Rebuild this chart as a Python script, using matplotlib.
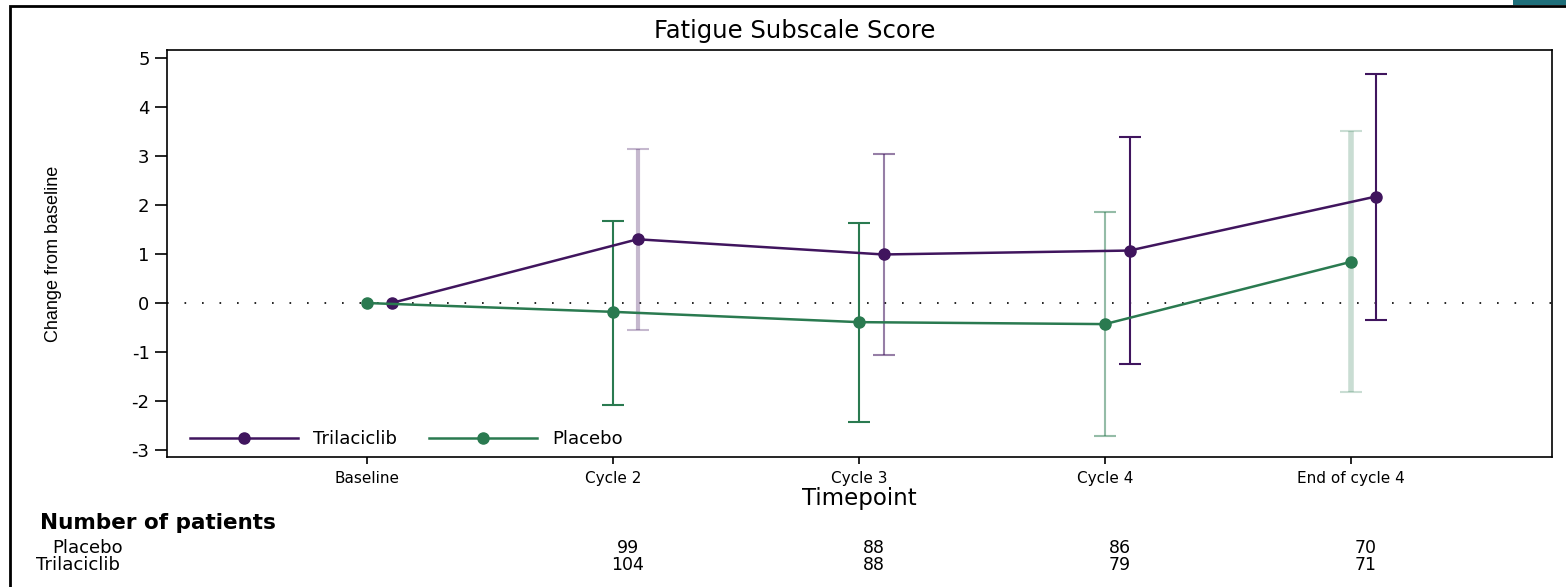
"""
Fatigue Subscale Score - change from baseline by timepoint
"""

import matplotlib

matplotlib.use("Agg")

import matplotlib.pyplot as plt
from matplotlib.patches import Rectangle
import numpy as np


# Data
timepoints = [
    "Baseline",
    "Cycle 2",
    "Cycle 3",
    "Cycle 4",
    "End of cycle 4",
]

trilaciclib_mean = [0.0, 1.30, 0.99, 1.07, 2.17]
trilaciclib_upper = [np.nan, 3.14, 3.04, 3.39, 4.67]
trilaciclib_lower = [np.nan, -0.55, -1.07, -1.24, -0.35]

placebo_mean = [0.0, -0.18, -0.39, -0.43, 0.84]
placebo_upper = [np.nan, 1.67, 1.63, 1.85, 3.51]
placebo_lower = [np.nan, -2.07, -2.43, -2.71, -1.82]

n_placebo = ["", "99", "88", "86", "70"]
n_trilaciclib = ["", "104", "88", "79", "71"]

PURPLE = "#40155e"
GREEN = "#2a7a50"

# the reference text is wide, so a wide sans face fits it better
plt.rcParams["font.family"] = ["DejaVu Sans"]


def draw_series(
    ax,
    x,
    mean,
    lower,
    upper,
    color,
    label,
    bar_alpha,
    bar_width,
) -> None:
    """
    Draw one treatment arm: error bars, then line with markers.
    """

    for xi, lo, hi, a, lw in zip(x, lower, upper, bar_alpha, bar_width):
        if np.isnan(lo):
            continue
        ax.errorbar(
            [xi],
            [(lo + hi) / 2],
            yerr=[[(hi - lo) / 2], [(hi - lo) / 2]],
            fmt="none",
            ecolor=color,
            alpha=a,
            elinewidth=lw,
            capsize=8,
            capthick=1.5,
            zorder=2,
        )

    ax.plot(
        x,
        mean,
        color=color,
        linewidth=1.8,
        marker="o",
        markersize=8,
        label=label,
        zorder=3,
    )


def main() -> None:
    """
    Build the figure.
    """

    fig = plt.figure(figsize=(15.66, 5.87), dpi=100)

    # outer frame + small teal tab, as in the reference
    fig.add_artist(
        Rectangle(
            (10 / 1566, -0.05),
            1.1,
            1 - 6 / 587 + 0.05,
            transform=fig.transFigure,
            fill=False,
            edgecolor="black",
            linewidth=2,
        )
    )
    fig.add_artist(
        Rectangle(
            (1513 / 1566, 1 - 5 / 587),
            0.1,
            0.1,
            transform=fig.transFigure,
            facecolor="#1f6f7a",
            edgecolor="none",
        )
    )

    ax = fig.add_axes([0.1066, 0.2215, 0.8844, 0.6933])

    idx = np.arange(len(timepoints))

    # Trilaciclib drawn slightly to the right of each timepoint
    draw_series(
        ax,
        idx + 0.1,
        trilaciclib_mean,
        trilaciclib_lower,
        trilaciclib_upper,
        PURPLE,
        "Trilaciclib",
        [1, 0.3, 0.55, 1, 1],
        [1.5, 3, 1.5, 1.5, 1.5],
    )

    draw_series(
        ax,
        idx,
        placebo_mean,
        placebo_lower,
        placebo_upper,
        GREEN,
        "Placebo",
        [1, 1, 1, 0.5, 0.25],
        [1.5, 1.5, 1.5, 1.5, 4],
    )

    ax.axhline(
        0,
        color="black",
        linestyle=(0, (1, 9.5)),
        linewidth=1.2,
        zorder=1,
    )

    ax.set_xlim(-0.813, 4.817)
    ax.set_ylim(-3.14, 5.16)

    ax.set_xticks(idx)
    ax.set_xticklabels(timepoints, fontsize=11)
    ax.set_yticks(np.arange(-3, 6))
    ax.set_yticklabels([str(v) for v in range(-3, 6)])
    ax.tick_params(axis="y", labelsize=13, length=9, width=1.2)
    ax.tick_params(axis="x", length=5, width=1.2, pad=5)

    for spine in ax.spines.values():
        spine.set_linewidth(1.2)

    ax.set_xlabel("Timepoint", fontsize=16.5, labelpad=1)
    ax.set_ylabel(
        "Change from baseline",
        fontsize=13,
        family="Liberation Sans",
    )
    ax.yaxis.set_label_coords(-0.076, 0.5)

    ax.legend(
        loc="lower left",
        ncol=2,
        frameon=False,
        fontsize=13,
        handlelength=6.0,
        handletextpad=0.8,
        columnspacing=1.8,
        borderaxespad=0.1,
        bbox_to_anchor=(0.01, 0.0),
    )

    fig.text(
        795 / 1566,
        1 - 31 / 587,
        "Fatigue Subscale Score",
        ha="center",
        va="center",
        fontsize=17.5,
    )

    # Patient counts table below the axis
    fig.text(
        40 / 1566,
        1 - 523 / 587,
        "Number of patients",
        fontsize=15.5,
        fontweight="bold",
        va="center",
    )
    fig.text(52 / 1566, 1 - 548 / 587, "Placebo", fontsize=13, va="center")
    fig.text(36 / 1566, 1 - 565 / 587, "Trilaciclib", fontsize=13, va="center")

    for xi, n_p, n_t in zip(idx, n_placebo, n_trilaciclib):
        xf = ax.transData.transform((xi + 0.06, 0))[0]
        xf = fig.transFigure.inverted().transform((xf, 0))[0]
        fig.text(xf, 1 - 548 / 587, n_p, ha="center", va="center", fontsize=12.5)
        fig.text(xf, 1 - 565 / 587, n_t, ha="center", va="center", fontsize=12.5)

    fig.savefig("out.png", dpi=100)


if __name__ == "__main__":

    main()
